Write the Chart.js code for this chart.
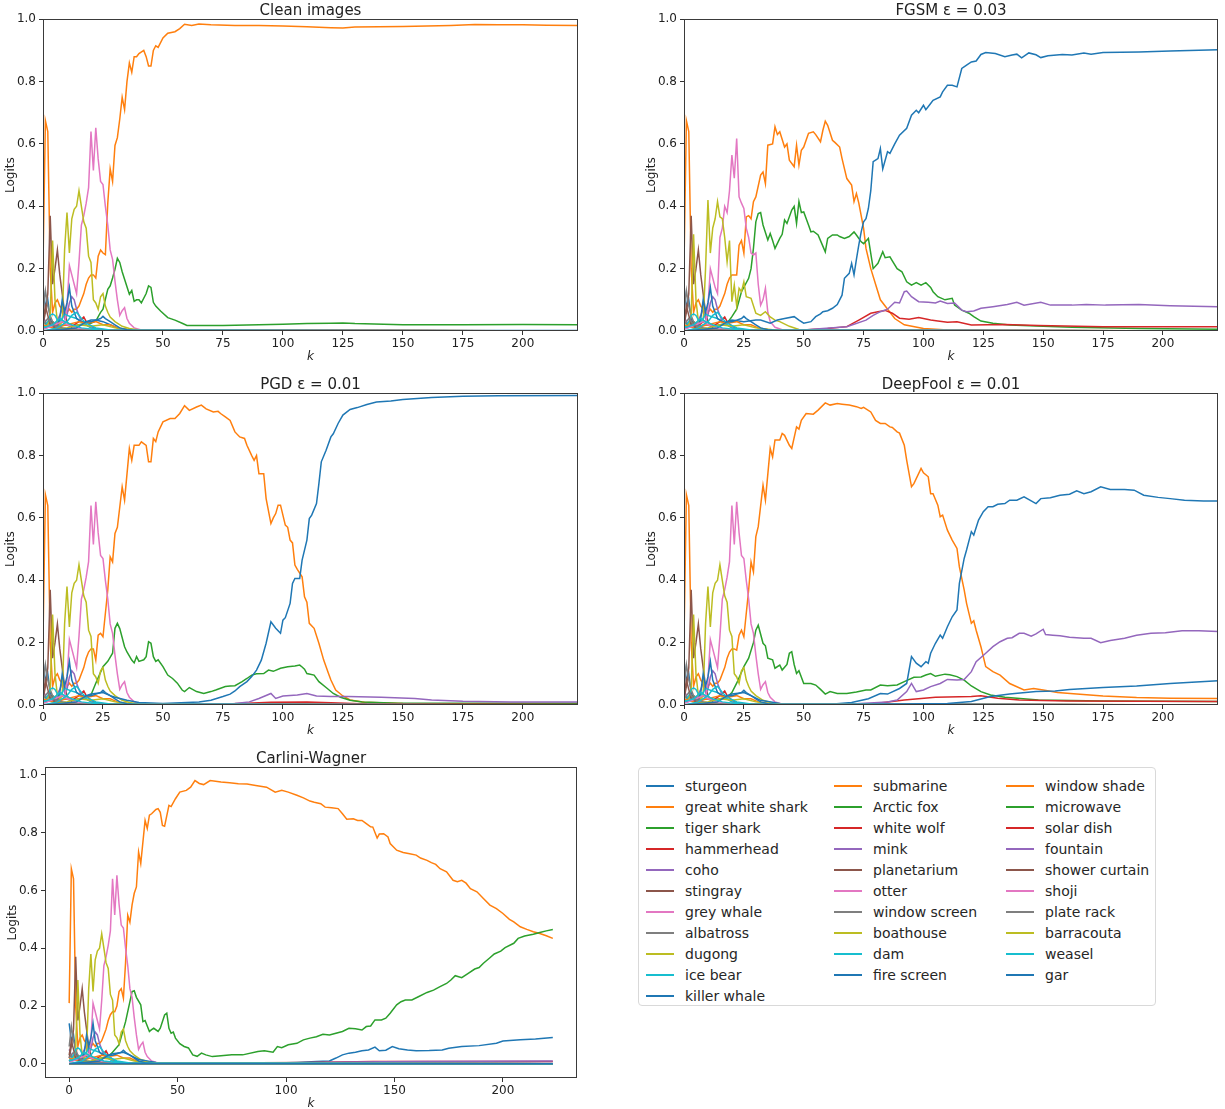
<!DOCTYPE html>
<html>
<head>
<meta charset="utf-8">
<script src="https://cdn.jsdelivr.net/npm/chart.js@4.4.0/dist/chart.umd.min.js"></script>
<style>
html, body { margin: 0; padding: 0; background: #fff; overflow: hidden; width: 1225px; height: 1109px; }
canvas { position: absolute; }
#legend { position: absolute; left: 638px; top: 767px; width: 518px; height: 239px; border: 1px solid #d9d9d9; border-radius: 4px;
  font-family: 'DejaVu Sans'; font-size: 14px; color: #262626; box-sizing: border-box; }
.col { position: absolute; top: 7px; }
.item { height: 21px; display: flex; align-items: center; white-space: nowrap; }
.swatch { width: 28px; height: 2px; margin-right: 11px; }
</style>
</head>
<body>
<canvas id="c1"></canvas>
<canvas id="c2"></canvas>
<canvas id="c3"></canvas>
<canvas id="c4"></canvas>
<canvas id="c5"></canvas>
<div id="legend"></div>
<script>
// class names, in legend order
const labels = ['sturgeon', 'great white shark', 'tiger shark', 'hammerhead', 'coho', 'stingray', 'grey whale',
  'albatross', 'dugong', 'ice bear', 'killer whale', 'submarine', 'Arctic fox', 'white wolf', 'mink', 'planetarium',
  'otter', 'window screen', 'boathouse', 'dam', 'fire screen', 'window shade', 'microwave', 'solar dish', 'fountain',
  'shower curtain', 'shoji', 'plate rack', 'barracouta', 'weasel', 'gar'];
const tab10 = ['#1f77b4', '#ff7f0e', '#2ca02c', '#d62728', '#9467bd', '#8c564b', '#e377c2', '#7f7f7f', '#bcbd22', '#17becf'];

const xTicks = [0, 25, 50, 75, 100, 125, 150, 175, 200];
const xTicksCW = [0, 50, 100, 150, 200];
const yTicks = [0, 0.2, 0.4, 0.6, 0.8, 1.0];

// [k, logit] pairs
const zeroLine = [[0, 0], [223, 0]];

// early steps, same in every panel
const sturgeon = [[0,0.14],[1,0.08],[2,0.1],[3,0.04],[4,0.02],[6,0.01],[10,0.005],[20,0.002],[223,0.001]];
const stingray = [[0,0.02],[1,0.06],[2,0.12],[3,0.37],[4,0.15],[5,0.2],[6,0.26],[7,0.18],[8,0.12],[9,0.06],[10,0.03],[12,0.01],[15,0.004],[20,0.001],[223,0]];
const hammerhead = [[0,0.01],[3,0.03],[5,0.01],[8,0.03],[10,0.02],[12,0.015],[15,0.03],[17,0.045],[18,0.03],[20,0.015],[23,0.005],[30,0.002],[223,0]];
const coho = [[0,0.05],[1,0.03],[2,0.02],[5,0.02],[7,0.05],[8,0.07],[9,0.04],[10,0.05],[11,0.09],[12,0.11],[13,0.1],[14,0.07],[15,0.05],[16,0.03],[18,0.02],[20,0.01],[25,0.003],[223,0]];
const albatross = [[0,0.06],[1,0.13],[2,0.08],[3,0.05],[4,0.03],[6,0.02],[8,0.01],[12,0.005],[223,0]];
const iceBear = [[0,0.01],[2,0.03],[3,0.05],[4,0.055],[5,0.05],[6,0.035],[7,0.03],[8,0.04],[9,0.055],[10,0.05],[12,0.045],[14,0.04],[16,0.03],[18,0.02],[20,0.01],[25,0.004],[223,0]];
const submarine = [[0,0.02],[4,0.01],[10,0.02],[15,0.03],[18,0.025],[22,0.03],[25,0.02],[28,0.02],[31,0.01],[35,0.005],[223,0]];
const planetarium = [[0,0.03],[1,0.08],[2,0.05],[3,0.02],[5,0.01],[10,0.003],[223,0]];
const otter = [[0,0.005],[5,0.02],[8,0.03],[10,0.02],[14,0.01],[20,0.003],[223,0]];
const windowScreen = [[0,0.02],[2,0.04],[4,0.02],[8,0.01],[15,0.004],[223,0]];
const boathouse = [[0,0],[10,0.01],[15,0.02],[20,0.015],[25,0.02],[30,0.01],[40,0.002],[223,0]];
const dam = [[0,0],[6,0.01],[10,0.03],[12,0.05],[14,0.06],[16,0.04],[18,0.025],[22,0.01],[28,0.003],[223,0]];
const weasel = [[0,0.01],[4,0.02],[7,0.04],[9,0.03],[12,0.02],[16,0.01],[25,0.002],[223,0]];
const fireEarly = [[0,0],[14,0.01],[16,0.02],[18,0.03],[20,0.03],[22,0.035],[24,0.04],[25,0.047],[26,0.04],[28,0.03],[30,0.02],[32,0.01],[35,0.004],[40,0.001]];
const greyWhale = [[0,0.01],[3,0.02],[6,0.01],[9,0.02],[10,0.08],[11,0.21],[12,0.18],[13,0.15],[14,0.12],[15,0.22],[16,0.34],[17,0.37],[18,0.41],[19,0.46],[20,0.64],[21,0.515],[22,0.652],[23,0.552],[24,0.48],[25,0.47],[26,0.4],[27,0.34],[28,0.26],[29,0.23],[30,0.16],[31,0.1],[32,0.05],[33,0.065],[34,0.075],[35,0.04],[36,0.025],[38,0.01],[41,0.003],[50,0.001],[223,0]];
const dugong = [[0,0.01],[2,0.02],[3,0.05],[4,0.29],[5,0.1],[6,0.03],[7,0.02],[8,0.03],[9,0.26],[10,0.38],[11,0.25],[12,0.36],[13,0.39],[14,0.4],[15,0.45],[16,0.4],[17,0.35],[18,0.33],[19,0.24],[20,0.22],[21,0.1],[22,0.09],[23,0.07],[24,0.11],[25,0.12],[26,0.08],[27,0.06],[28,0.045],[30,0.03],[33,0.015],[36,0.008],[40,0.003],[50,0.001],[223,0]];
const sharkEarly = [[0,0.21],[1,0.675],[2,0.64],[3,0.2],[4,0.06],[5,0.09],[6,0.1],[7,0.08],[8,0.07],[9,0.05],[10,0.06],[11,0.07],[12,0.06],[13,0.07],[14,0.07],[15,0.08],[16,0.1],[17,0.12],[18,0.15],[19,0.17],[20,0.18],[21,0.18]];
const tigerEarly = [[0,0.03],[2,0.02],[4,0.03],[6,0.015],[9,0.02],[12,0.015],[15,0.02],[18,0.025]];
const killerEarly = [[0,0.01],[5,0.015],[6,0.02],[7,0.04],[8,0.1],[9,0.06],[10,0.09],[11,0.14],[12,0.08],[13,0.06],[14,0.04],[16,0.03],[18,0.03]];

// Clean images
const cleanShark = sharkEarly.concat([[22,0.17],[23,0.24],[24,0.26],[25,0.25],[26,0.245],[27,0.41],[28,0.52],[29,0.48],[30,0.595],[31,0.62],[32,0.68],[33,0.75],[34,0.71],[35,0.8],[36,0.86],[37,0.83],[38,0.88],[39,0.88],[40,0.89],[42,0.9],[43,0.88],[44,0.85],[45,0.85],[46,0.9],[47,0.915],[48,0.91],[50,0.94],[52,0.955],[55,0.96],[57,0.97],[59,0.984],[62,0.98],[65,0.985],[70,0.982],[80,0.98],[90,0.98],[100,0.978],[110,0.976],[120,0.973],[125,0.972],[130,0.975],[140,0.976],[150,0.977],[160,0.978],[170,0.98],[180,0.983],[190,0.982],[200,0.982],[210,0.981],[223,0.98]]);
const cleanTiger = tigerEarly.concat([[20,0.025],[22,0.032],[24,0.06],[25,0.07],[27,0.134],[28,0.145],[29,0.17],[30,0.198],[31,0.233],[32,0.22],[33,0.19],[34,0.166],[36,0.118],[37,0.13],[38,0.095],[39,0.1],[40,0.1],[41,0.09],[43,0.12],[44,0.145],[45,0.14],[46,0.092],[47,0.08],[49,0.064],[52,0.043],[55,0.035],[58,0.025],[60,0.018],[66,0.018],[75,0.018],[90,0.02],[100,0.022],[110,0.024],[120,0.025],[125,0.026],[130,0.024],[150,0.02],[175,0.02],[200,0.021],[223,0.02]]);
const cleanKiller = killerEarly.concat([[20,0.035],[22,0.035],[25,0.03],[28,0.02],[31,0.01],[35,0.004],[45,0.002],[223,0.002]]);

// FGSM eps = 0.03
const fgsmWhale = [[0,0.01],[3,0.02],[6,0.01],[9,0.02],[10,0.08],[11,0.2],[12,0.17],[13,0.14],[14,0.12],[15,0.3],[16,0.33],[17,0.4],[18,0.38],[19,0.45],[20,0.564],[21,0.49],[22,0.617],[23,0.43],[24,0.41],[25,0.393],[26,0.33],[27,0.3],[28,0.25],[29,0.244],[30,0.25],[31,0.15],[32,0.083],[33,0.1],[34,0.137],[35,0.06],[36,0.03],[38,0.012],[41,0.004],[50,0.001],[223,0]];
const fgsmDugong = [[0,0.01],[2,0.02],[3,0.05],[4,0.31],[5,0.1],[6,0.03],[8,0.03],[9,0.2],[10,0.42],[11,0.25],[12,0.33],[13,0.36],[14,0.415],[15,0.366],[16,0.36],[17,0.3],[18,0.222],[19,0.29],[20,0.094],[21,0.147],[22,0.08],[23,0.137],[24,0.126],[25,0.158],[26,0.11],[28,0.105],[30,0.057],[32,0.05],[34,0.062],[36,0.045],[38,0.035],[40,0.03],[44,0.015],[48,0.005],[55,0.001],[223,0]];
const fgsmShark = sharkEarly.concat([[22,0.18],[23,0.275],[24,0.29],[25,0.25],[26,0.366],[27,0.37],[28,0.36],[29,0.415],[30,0.43],[32,0.5],[33,0.51],[34,0.473],[35,0.596],[37,0.6],[38,0.655],[39,0.63],[40,0.639],[42,0.59],[43,0.6],[44,0.548],[46,0.527],[47,0.596],[48,0.532],[49,0.58],[50,0.59],[52,0.634],[54,0.639],[55,0.63],[57,0.607],[58,0.644],[59,0.673],[60,0.66],[62,0.612],[63,0.605],[65,0.59],[66,0.553],[68,0.489],[70,0.468],[71,0.415],[72,0.441],[73,0.41],[75,0.329],[76,0.265],[78,0.2],[80,0.15],[82,0.1],[84,0.08],[86,0.06],[88,0.04],[92,0.02],[100,0.008],[110,0.003],[130,0.001],[223,0]]);
const fgsmTiger = tigerEarly.concat([[20,0.046],[22,0.07],[24,0.126],[27,0.169],[28,0.2],[29,0.265],[30,0.35],[31,0.377],[32,0.38],[33,0.34],[35,0.292],[36,0.313],[37,0.29],[38,0.265],[40,0.297],[41,0.31],[42,0.356],[43,0.345],[45,0.388],[46,0.4],[47,0.345],[48,0.415],[49,0.38],[50,0.382],[52,0.34],[53,0.318],[54,0.32],[56,0.308],[57,0.29],[59,0.254],[60,0.297],[62,0.308],[64,0.308],[65,0.303],[67,0.297],[69,0.303],[71,0.318],[72,0.308],[74,0.286],[75,0.28],[77,0.297],[79,0.2],[81,0.217],[83,0.254],[84,0.235],[86,0.238],[87,0.225],[89,0.2],[91,0.19],[93,0.158],[95,0.147],[97,0.155],[99,0.147],[101,0.155],[103,0.14],[104,0.126],[106,0.11],[109,0.1],[112,0.105],[113,0.083],[116,0.067],[119,0.057],[121,0.046],[124,0.032],[129,0.025],[136,0.019],[150,0.015],[162,0.012],[190,0.008],[223,0.006]]);
const fgsmKiller = killerEarly.concat([[20,0.035],[25,0.03],[30,0.035],[32,0.035],[36,0.025],[39,0.035],[42,0.04],[46,0.046],[48,0.035],[50,0.025],[53,0.03],[55,0.046],[57,0.055],[58,0.062],[60,0.065],[62,0.073],[64,0.085],[65,0.1],[66,0.115],[67,0.169],[69,0.185],[70,0.217],[71,0.18],[72,0.23],[73,0.276],[74,0.318],[75,0.35],[76,0.36],[77,0.393],[78,0.45],[79,0.543],[80,0.548],[81,0.553],[82,0.585],[83,0.52],[85,0.575],[86,0.57],[88,0.6],[90,0.628],[93,0.65],[95,0.692],[97,0.708],[98,0.7],[100,0.724],[101,0.71],[103,0.73],[104,0.74],[107,0.751],[108,0.767],[110,0.788],[112,0.788],[114,0.783],[116,0.842],[118,0.853],[120,0.863],[122,0.866],[124,0.887],[126,0.893],[130,0.89],[134,0.88],[137,0.885],[139,0.888],[141,0.876],[144,0.892],[147,0.886],[149,0.877],[152,0.883],[158,0.887],[162,0.885],[167,0.892],[170,0.888],[175,0.893],[190,0.895],[203,0.898],[223,0.902]]);
const fgsmMink = [[0,0],[50,0.003],[58,0.008],[68,0.014],[76,0.035],[79,0.05],[82,0.062],[85,0.07],[88,0.092],[90,0.09],[92,0.126],[93,0.128],[95,0.11],[98,0.094],[102,0.092],[105,0.09],[107,0.096],[110,0.088],[113,0.09],[116,0.067],[118,0.062],[121,0.064],[124,0.073],[129,0.078],[135,0.085],[139,0.092],[142,0.083],[149,0.092],[153,0.083],[162,0.083],[168,0.085],[176,0.083],[190,0.085],[203,0.081],[223,0.078]];
const fgsmWolf = [[0,0],[50,0.003],[60,0.008],[68,0.014],[73,0.035],[78,0.057],[81,0.062],[84,0.066],[87,0.057],[90,0.041],[94,0.038],[98,0.043],[103,0.035],[106,0.032],[110,0.028],[114,0.03],[120,0.019],[134,0.021],[148,0.018],[175,0.014],[223,0.014]];

// PGD eps = 0.01
const pgdShark = sharkEarly.concat([[22,0.144],[23,0.224],[24,0.23],[25,0.219],[27,0.369],[28,0.475],[29,0.459],[30,0.55],[31,0.57],[33,0.7],[34,0.657],[36,0.823],[37,0.785],[38,0.833],[40,0.833],[41,0.844],[43,0.833],[44,0.78],[45,0.78],[46,0.855],[47,0.845],[48,0.876],[50,0.908],[53,0.919],[55,0.919],[57,0.935],[59,0.96],[61,0.945],[64,0.956],[66,0.962],[68,0.95],[71,0.94],[73,0.942],[74,0.935],[76,0.924],[78,0.913],[80,0.876],[82,0.86],[84,0.855],[85,0.833],[87,0.8],[88,0.785],[89,0.8],[90,0.742],[92,0.742],[93,0.662],[95,0.582],[96,0.6],[97,0.614],[98,0.641],[99,0.641],[101,0.577],[102,0.57],[103,0.529],[104,0.52],[105,0.449],[106,0.435],[108,0.411],[109,0.347],[110,0.33],[111,0.262],[113,0.246],[115,0.198],[117,0.144],[119,0.101],[120,0.08],[122,0.048],[125,0.029],[128,0.016],[134,0.009],[150,0.005],[223,0.003]]);
const pgdTiger = tigerEarly.concat([[20,0.032],[22,0.07],[25,0.123],[27,0.14],[29,0.166],[30,0.246],[31,0.262],[32,0.245],[34,0.187],[35,0.17],[37,0.144],[38,0.135],[39,0.155],[40,0.14],[42,0.145],[43,0.155],[44,0.203],[45,0.198],[46,0.155],[47,0.14],[48,0.145],[50,0.123],[52,0.096],[54,0.085],[56,0.07],[58,0.048],[59,0.043],[61,0.056],[64,0.043],[67,0.037],[70,0.043],[72,0.048],[76,0.059],[78,0.061],[80,0.062],[83,0.075],[85,0.085],[87,0.096],[89,0.1],[92,0.101],[94,0.112],[96,0.108],[99,0.118],[102,0.123],[105,0.125],[107,0.128],[108,0.122],[109,0.115],[110,0.101],[113,0.096],[115,0.075],[118,0.056],[121,0.037],[124,0.025],[128,0.015],[133,0.01],[148,0.006],[223,0.006]]);
const pgdKiller = killerEarly.concat([[20,0.035],[25,0.04],[28,0.03],[30,0.025],[35,0.015],[40,0.008],[50,0.005],[65,0.01],[70,0.015],[75,0.027],[78,0.035],[80,0.045],[82,0.059],[85,0.075],[87,0.091],[89,0.112],[91,0.144],[93,0.198],[95,0.267],[97,0.246],[99,0.23],[100,0.272],[101,0.28],[103,0.326],[104,0.39],[105,0.406],[107,0.406],[108,0.465],[110,0.529],[111,0.598],[112,0.609],[114,0.646],[115,0.71],[116,0.78],[118,0.817],[120,0.86],[121,0.87],[123,0.903],[125,0.93],[128,0.948],[131,0.954],[135,0.964],[139,0.972],[145,0.975],[150,0.98],[162,0.986],[175,0.99],[190,0.992],[223,0.993]]);
const pgdMink = [[0,0],[60,0.002],[80,0.005],[86,0.01],[90,0.021],[95,0.037],[97,0.021],[100,0.029],[106,0.032],[110,0.037],[114,0.029],[120,0.027],[127,0.027],[141,0.025],[155,0.021],[162,0.016],[175,0.012],[195,0.01],[223,0.01]];
const pgdWolf = [[0,0],[70,0.002],[85,0.006],[95,0.009],[110,0.01],[120,0.007],[135,0.003],[223,0.002]];

// DeepFool eps = 0.01
const dfShark = sharkEarly.concat([[22,0.176],[23,0.224],[24,0.24],[25,0.219],[27,0.369],[28,0.459],[29,0.427],[30,0.54],[31,0.572],[33,0.705],[34,0.657],[36,0.823],[37,0.796],[38,0.85],[40,0.85],[41,0.871],[42,0.865],[44,0.833],[45,0.823],[47,0.892],[48,0.885],[49,0.913],[51,0.935],[54,0.933],[56,0.946],[59,0.969],[61,0.962],[64,0.967],[66,0.965],[69,0.962],[72,0.957],[74,0.951],[75,0.955],[78,0.94],[80,0.913],[82,0.903],[84,0.903],[86,0.892],[87,0.89],[89,0.876],[90,0.872],[92,0.833],[93,0.785],[95,0.7],[96,0.71],[99,0.759],[100,0.745],[102,0.732],[103,0.678],[104,0.678],[106,0.641],[107,0.604],[108,0.609],[110,0.561],[112,0.529],[114,0.502],[115,0.443],[117,0.369],[118,0.326],[120,0.262],[121,0.27],[122,0.24],[124,0.187],[126,0.123],[129,0.107],[132,0.096],[136,0.069],[142,0.048],[146,0.053],[150,0.048],[156,0.04],[164,0.035],[175,0.029],[189,0.024],[203,0.022],[223,0.021]]);
const dfTiger = tigerEarly.concat([[20,0.04],[22,0.07],[25,0.123],[27,0.15],[29,0.2],[30,0.24],[31,0.256],[33,0.198],[34,0.19],[35,0.15],[37,0.145],[38,0.118],[40,0.128],[41,0.112],[43,0.13],[44,0.166],[45,0.171],[46,0.13],[47,0.101],[48,0.11],[50,0.069],[53,0.069],[55,0.064],[57,0.05],[59,0.035],[61,0.043],[64,0.037],[68,0.037],[72,0.042],[76,0.048],[78,0.048],[82,0.064],[85,0.062],[89,0.064],[92,0.075],[96,0.089],[99,0.09],[101,0.096],[103,0.101],[105,0.092],[109,0.099],[111,0.097],[114,0.091],[117,0.08],[120,0.061],[124,0.043],[128,0.032],[134,0.025],[148,0.016],[175,0.013],[223,0.011]]);
const dfKiller = killerEarly.concat([[20,0.035],[25,0.04],[28,0.03],[32,0.015],[40,0.005],[60,0.002],[70,0.008],[77,0.02],[82,0.037],[85,0.035],[90,0.053],[93,0.069],[95,0.155],[97,0.134],[99,0.123],[101,0.139],[102,0.134],[103,0.166],[105,0.198],[107,0.224],[108,0.214],[110,0.251],[112,0.283],[114,0.305],[115,0.39],[117,0.47],[118,0.497],[120,0.556],[121,0.545],[123,0.593],[125,0.62],[127,0.636],[129,0.636],[131,0.644],[134,0.646],[136,0.657],[139,0.657],[142,0.668],[145,0.655],[147,0.646],[149,0.662],[153,0.665],[157,0.673],[161,0.676],[164,0.687],[167,0.678],[170,0.684],[174,0.7],[178,0.691],[184,0.691],[188,0.689],[192,0.673],[198,0.666],[203,0.662],[209,0.657],[217,0.654],[223,0.654]]);
const dfMink = [[0,0],[70,0.003],[85,0.01],[89,0.016],[93,0.043],[95,0.069],[97,0.043],[100,0.048],[103,0.059],[107,0.069],[110,0.082],[114,0.08],[117,0.082],[120,0.107],[122,0.139],[126,0.166],[129,0.187],[132,0.203],[135,0.214],[137,0.216],[140,0.23],[142,0.23],[145,0.221],[147,0.228],[150,0.243],[151,0.226],[154,0.224],[157,0.222],[161,0.217],[167,0.214],[170,0.214],[174,0.2],[178,0.207],[184,0.214],[189,0.224],[195,0.23],[201,0.232],[208,0.238],[215,0.238],[223,0.236]];
const dfFire = fireEarly.concat([[60,0],[110,0.005],[120,0.011],[128,0.027],[136,0.035],[147,0.043],[155,0.045],[161,0.05],[175,0.056],[189,0.061],[203,0.069],[223,0.078]]);
const dfWolf = [[0,0],[80,0.005],[92,0.016],[105,0.025],[120,0.027],[124,0.03],[131,0.022],[140,0.016],[160,0.013],[223,0.011]];

// Carlini-Wagner
const cwShark = sharkEarly.concat([[22,0.2],[23,0.25],[24,0.26],[25,0.227],[26,0.35],[27,0.514],[28,0.49],[29,0.55],[30,0.59],[31,0.612],[32,0.733],[33,0.693],[35,0.842],[36,0.814],[37,0.86],[38,0.865],[40,0.88],[41,0.883],[42,0.87],[43,0.825],[44,0.822],[46,0.894],[47,0.89],[49,0.917],[51,0.94],[54,0.946],[56,0.957],[58,0.98],[60,0.97],[62,0.966],[65,0.98],[70,0.975],[74,0.972],[78,0.969],[82,0.968],[86,0.963],[91,0.957],[95,0.94],[98,0.946],[101,0.94],[105,0.929],[108,0.92],[111,0.909],[113,0.905],[116,0.9],[118,0.888],[121,0.886],[124,0.883],[126,0.865],[128,0.846],[131,0.848],[133,0.842],[135,0.842],[137,0.831],[139,0.82],[140,0.819],[142,0.781],[143,0.795],[145,0.796],[147,0.785],[148,0.762],[151,0.739],[154,0.731],[157,0.727],[160,0.722],[162,0.712],[165,0.704],[167,0.696],[169,0.69],[171,0.675],[174,0.664],[177,0.635],[179,0.63],[181,0.635],[183,0.625],[185,0.606],[188,0.595],[191,0.572],[194,0.549],[197,0.537],[200,0.52],[203,0.5],[205,0.491],[208,0.474],[211,0.465],[214,0.457],[217,0.451],[220,0.443],[223,0.434]]);
const cwTiger = tigerEarly.concat([[20,0.04],[23,0.066],[26,0.146],[28,0.215],[29,0.25],[30,0.253],[31,0.23],[33,0.204],[34,0.146],[35,0.15],[37,0.112],[38,0.118],[39,0.123],[41,0.112],[42,0.123],[44,0.169],[45,0.175],[46,0.123],[47,0.106],[48,0.11],[49,0.089],[51,0.07],[53,0.06],[55,0.055],[57,0.031],[59,0.026],[61,0.037],[63,0.031],[66,0.025],[70,0.028],[75,0.031],[80,0.031],[87,0.043],[90,0.045],[94,0.04],[96,0.06],[98,0.056],[101,0.066],[105,0.071],[108,0.083],[111,0.089],[114,0.094],[117,0.102],[120,0.1],[123,0.106],[126,0.112],[129,0.123],[132,0.121],[135,0.117],[137,0.129],[139,0.131],[141,0.152],[144,0.152],[146,0.158],[148,0.175],[151,0.204],[153,0.215],[155,0.221],[158,0.221],[161,0.232],[165,0.247],[168,0.255],[171,0.267],[174,0.278],[176,0.29],[178,0.305],[181,0.298],[184,0.313],[187,0.328],[189,0.333],[191,0.348],[194,0.367],[196,0.38],[199,0.39],[201,0.402],[205,0.417],[207,0.434],[210,0.442],[214,0.448],[217,0.454],[220,0.46],[223,0.465]]);
const cwKiller = killerEarly.concat([[20,0.035],[25,0.04],[28,0.03],[32,0.015],[40,0.005],[60,0.003],[100,0.004],[105,0.005],[114,0.008],[120,0.01],[123,0.02],[126,0.031],[129,0.037],[132,0.04],[135,0.045],[138,0.048],[141,0.058],[143,0.045],[146,0.047],[149,0.06],[152,0.052],[156,0.048],[160,0.045],[166,0.046],[172,0.048],[175,0.054],[181,0.06],[189,0.063],[197,0.071],[200,0.079],[208,0.083],[215,0.086],[223,0.091]]);
const cwMink = [[0,0],[100,0.003],[130,0.006],[160,0.008],[223,0.01]];
const cwWolf = [[0,0],[110,0.005],[140,0.008],[223,0.008]];

const fireQuiet = fireEarly.concat([[223, 0]]);

const sharedSeries = {
  'sturgeon': sturgeon, 'hammerhead': hammerhead, 'coho': coho, 'stingray': stingray, 'grey whale': greyWhale,
  'albatross': albatross, 'dugong': dugong, 'ice bear': iceBear, 'submarine': submarine, 'planetarium': planetarium,
  'otter': otter, 'window screen': windowScreen, 'boathouse': boathouse, 'dam': dam, 'weasel': weasel, 'fire screen': fireQuiet
};

const panels = [
  { id: 'c1', title: 'Clean images', left: 0, top: 0, plotW: 535, plotH: 312, xr: [0, 223], yr: [0, 1], xt: xTicks,
    series: { 'great white shark': cleanShark, 'tiger shark': cleanTiger, 'killer whale': cleanKiller } },
  { id: 'c2', title: 'FGSM \u03b5 = 0.03', left: 641, top: 0, plotW: 534, plotH: 312, xr: [0, 223], yr: [0, 1], xt: xTicks,
    series: { 'great white shark': fgsmShark, 'tiger shark': fgsmTiger, 'killer whale': fgsmKiller, 'mink': fgsmMink,
      'white wolf': fgsmWolf, 'grey whale': fgsmWhale, 'dugong': fgsmDugong } },
  { id: 'c3', title: 'PGD \u03b5 = 0.01', left: 0, top: 374, plotW: 535, plotH: 312, xr: [0, 223], yr: [0, 1], xt: xTicks,
    series: { 'great white shark': pgdShark, 'tiger shark': pgdTiger, 'killer whale': pgdKiller, 'mink': pgdMink, 'white wolf': pgdWolf } },
  { id: 'c4', title: 'DeepFool \u03b5 = 0.01', left: 641, top: 374, plotW: 534, plotH: 312, xr: [0, 223], yr: [0, 1], xt: xTicks,
    series: { 'great white shark': dfShark, 'tiger shark': dfTiger, 'killer whale': dfKiller, 'mink': dfMink,
      'white wolf': dfWolf, 'fire screen': dfFire } },
  { id: 'c5', title: 'Carlini-Wagner', left: 2, top: 748, plotW: 532, plotH: 311, xr: [-11.15, 234.15], yr: [-0.049, 1.026], xt: xTicksCW,
    series: { 'great white shark': cwShark, 'tiger shark': cwTiger, 'killer whale': cwKiller, 'mink': cwMink, 'white wolf': cwWolf } }
];

Chart.defaults.font.family = 'DejaVu Sans';
Chart.defaults.color = '#222';

// matplotlib draws a spine on all four sides
const framePlugin = {
  id: 'frame',
  afterDraw(chart) {
    const a = chart.chartArea, c = chart.ctx;
    c.save();
    c.strokeStyle = '#3a3a3a';
    c.lineWidth = 1;
    c.strokeRect(Math.round(a.left) + 0.5, Math.round(a.top) + 0.5,
      Math.round(a.right - a.left) - 1, Math.round(a.bottom - a.top) - 1);
    c.restore();
  }
};

panels.forEach(p => {
  const canvas = document.getElementById(p.id);
  canvas.width = 43 + p.plotW + 6;
  canvas.height = 19 + p.plotH + 33;
  canvas.style.left = p.left + 'px';
  canvas.style.top = p.top + 'px';

  const datasets = labels.map((name, i) => {
    const pts = p.series[name] || sharedSeries[name] || zeroLine;
    return {
      label: name,
      data: pts.map(d => ({ x: d[0], y: d[1] })),
      borderColor: tab10[i % 10],
      borderWidth: 1.5,
      pointRadius: 0,
      fill: false,
      tension: 0,
      order: labels.length - i
    };
  });

  new Chart(canvas, {
    type: 'line',
    data: { datasets: datasets },
    plugins: [framePlugin],
    options: {
      responsive: false,
      animation: false,
      devicePixelRatio: 1,
      layout: { padding: { left: 0, right: 6, top: 0, bottom: 0 } },
      plugins: {
        legend: { display: false },
        tooltip: { enabled: false },
        title: { display: true, text: p.title, fullSize: false, color: '#222',
          font: { size: 15, weight: 'normal', lineHeight: 1.15 }, padding: { top: 2, bottom: 0 } }
      },
      scales: {
        x: {
          type: 'linear', min: p.xr[0], max: p.xr[1],
          afterBuildTicks: s => { s.ticks = p.xt.map(v => ({ value: v })); },
          afterFit: s => { s.height = 33; },
          border: { display: false },
          grid: { drawOnChartArea: false, drawTicks: true, tickLength: 4, color: '#333' },
          ticks: { font: { size: 12 }, color: '#222', padding: 2, maxRotation: 0, callback: v => String(v) },
          title: { display: true, text: 'k', color: '#222', font: { size: 12, style: 'italic' }, padding: { top: 0, bottom: 0 } }
        },
        y: {
          type: 'linear', min: p.yr[0], max: p.yr[1],
          afterBuildTicks: s => { s.ticks = yTicks.map(v => ({ value: v })); },
          afterFit: s => { s.width = 43; },
          border: { display: false },
          grid: { drawOnChartArea: false, drawTicks: true, tickLength: 4, color: '#333' },
          ticks: { font: { size: 12 }, color: '#222', padding: 3, callback: v => v.toFixed(1) },
          title: { display: true, text: 'Logits', color: '#222', font: { size: 12 }, padding: { top: 4, bottom: 0 } }
        }
      }
    }
  });
});

// legend: 3 columns like matplotlib's ncol=3
const legend = document.getElementById('legend');
const colLeft = [7, 195, 367];
const colSplit = [0, 11, 21, 31];
for (let c = 0; c < 3; c++) {
  const col = document.createElement('div');
  col.className = 'col';
  col.style.left = colLeft[c] + 'px';
  labels.slice(colSplit[c], colSplit[c + 1]).forEach((name, j) => {
    const i = colSplit[c] + j;
    const item = document.createElement('div');
    item.className = 'item';
    const sw = document.createElement('span');
    sw.className = 'swatch';
    sw.style.background = tab10[i % 10];
    const tx = document.createElement('span');
    tx.textContent = name;
    item.appendChild(sw);
    item.appendChild(tx);
    col.appendChild(item);
  });
  legend.appendChild(col);
}
</script>
</body>
</html>
